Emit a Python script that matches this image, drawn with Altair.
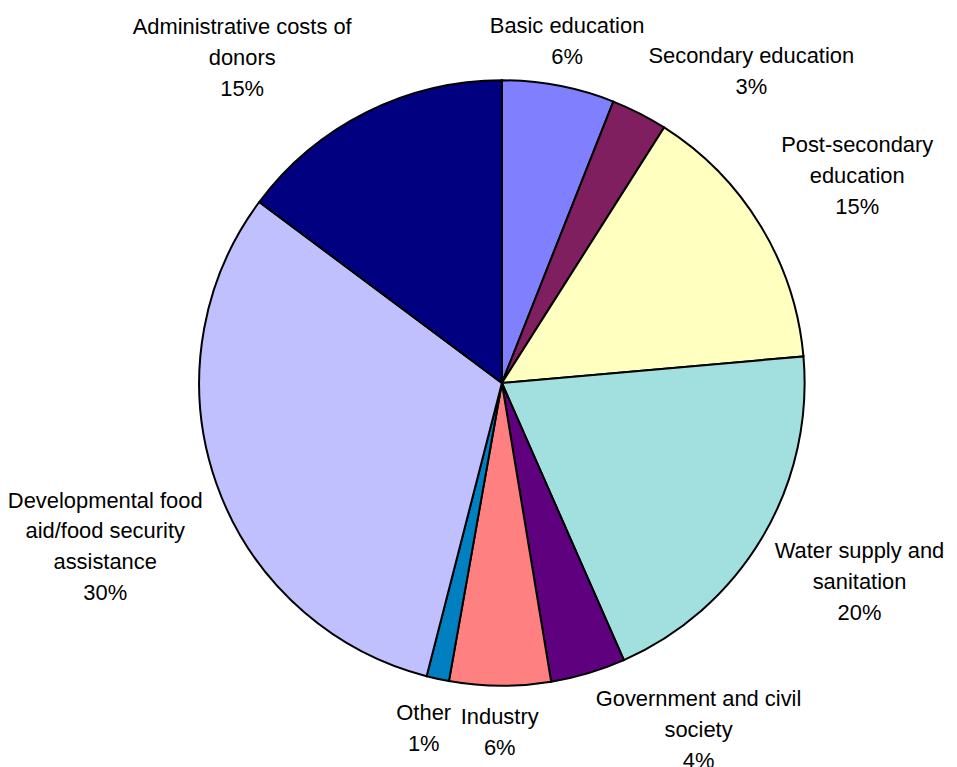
import math
import altair as alt
import pandas as pd

# ---- data ----
categories = [
    "Basic education",
    "Secondary education",
    "Post-secondary education",
    "Water supply and sanitation",
    "Government and civil society",
    "Industry",
    "Other",
    "Developmental food aid/food security assistance",
    "Administrative costs of donors",
]
values = [6.0, 3.0, 14.6, 19.8, 4.0, 5.4, 1.2, 31.2, 14.8]
pct_labels = ["6%", "3%", "15%", "20%", "4%", "6%", "1%", "30%", "15%"]
label_names = [
    "Basic education",
    "Secondary education",
    "Post-secondary\neducation",
    "Water supply and\nsanitation",
    "Government and civil\nsociety",
    "Industry",
    "Other",
    "Developmental food\naid/food security\nassistance",
    "Administrative costs of\ndonors",
]
colors = ["#8080FF", "#7F1F5F", "#FFFFC0", "#A2E0E0", "#5F007F",
          "#FF8080", "#0080C0", "#C0C0FF", "#000080"]

# ---- layout (not data) ----
PIE_R = 304
FONT = 22
LINE_H = 31
GAP = 16
CHAR_W = 10.5
# label nudges: (angle offset in degrees, radial offset in px)
nudges = {
    "Basic education": (0, -16),
    "Secondary education": (11.7, -6),
    "Post-secondary education": (1.1, 6),
    "Water supply and sanitation": (-1.5, -5),
    "Government and civil society": (-13, -12),
    "Administrative costs of donors": (-12, -14),
    "Developmental food aid/food security assistance": (-3, 0),
    "Other": (0.5, 0),
}

total = sum(values)
rows = []
cum = 0.0
for i, (cat, v, pct, name) in enumerate(zip(categories, values, pct_labels, label_names)):
    mid = (cum + v / 2) / total * 2 * math.pi
    cum += v
    da, dr = nudges.get(cat, (0, 0))
    a = mid + math.radians(da)
    text = name + "\n" + pct
    lines = text.split("\n")
    w = max(len(s) for s in lines) * CHAR_W
    h = len(lines) * LINE_H
    ext = abs(math.sin(a)) * w / 2 + abs(math.cos(a)) * h / 2
    r = PIE_R + GAP + ext + dr
    # anchor of the first line so that the whole block is centred on (r, a)
    x = r * math.sin(a)
    y = -r * math.cos(a) - (len(lines) - 1) * LINE_H / 2
    rows.append({
        "category": cat,
        "value": v,
        "idx": i,
        "label": text,
        "label_theta": math.atan2(x, -y),
        "label_r": math.hypot(x, y),
    })
df = pd.DataFrame(rows)

arcs = alt.Chart(df).mark_arc(radius=PIE_R, stroke="black", strokeWidth=2).encode(
    theta=alt.Theta("value:Q", stack=True),
    color=alt.Color("category:N", scale=alt.Scale(domain=categories, range=colors), legend=None),
    order=alt.Order("idx:Q"),
)

texts = alt.Chart(df).mark_text(
    font="Liberation Sans", fontSize=FONT, lineHeight=LINE_H, lineBreak="\n",
    align="center", baseline="middle", color="black",
).encode(
    theta=alt.Theta("label_theta:Q", scale=None, stack=False),
    radius=alt.Radius("label_r:Q", scale=None),
    text="label:N",
)

chart = alt.layer(arcs, texts).resolve_scale(
    theta="independent", radius="independent"
).properties(
    width=608,
    height=608,
    padding={"left": 192, "top": 71, "right": 145, "bottom": 81},
    autosize=alt.AutoSizeParams(type="none"),
).configure_view(stroke=None)

chart.save("out.html", embed_options={"renderer": "svg", "actions": False})
